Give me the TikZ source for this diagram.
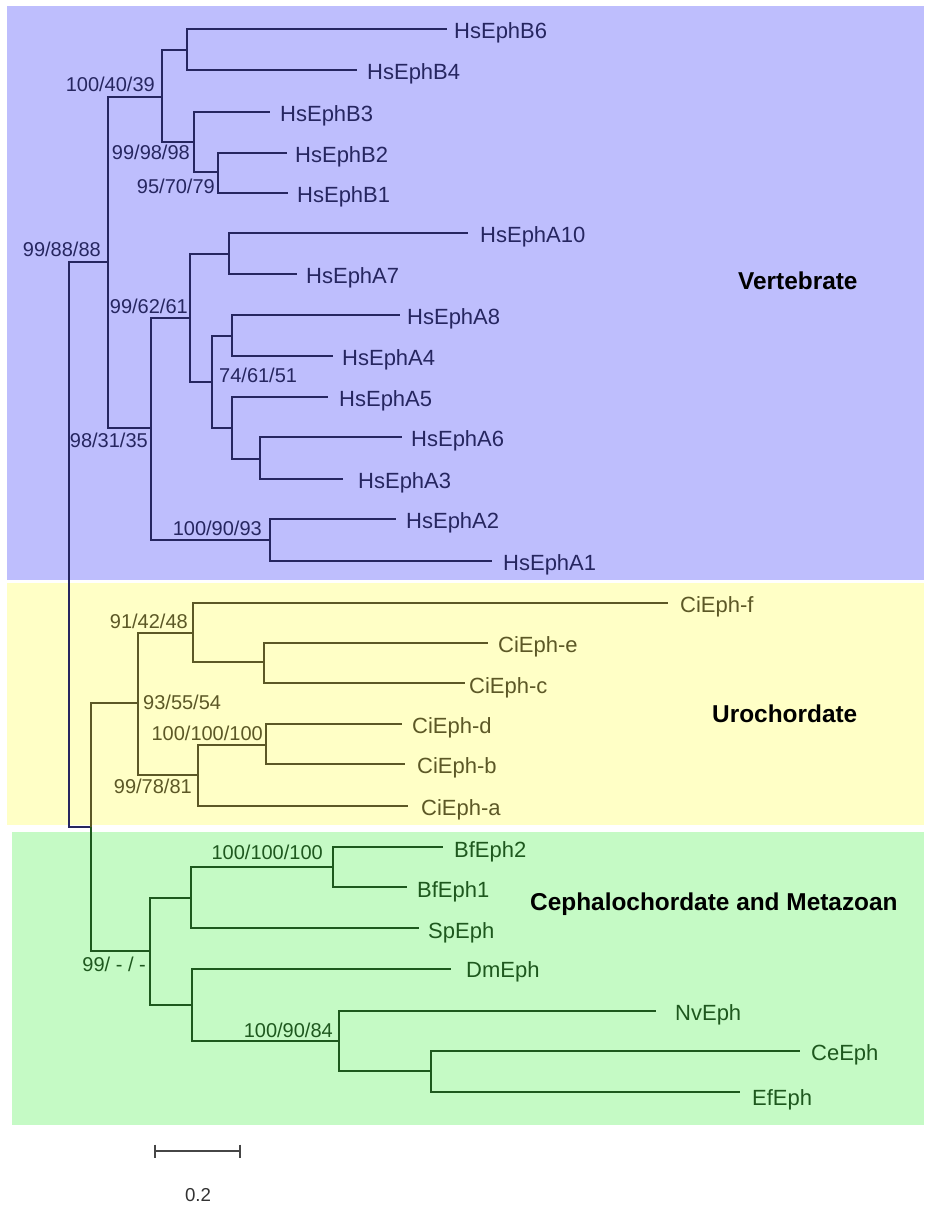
\documentclass[tikz,border=0pt]{standalone}
\usepackage{fontspec}
\setmainfont{Liberation Sans}
\definecolor{bandblue}{RGB}{190,190,253}
\definecolor{inkblue}{RGB}{38,38,96}
\definecolor{bandyellow}{RGB}{255,255,198}
\definecolor{inkyellow}{RGB}{92,88,38}
\definecolor{bandgreen}{RGB}{197,250,197}
\definecolor{inkgreen}{RGB}{30,88,30}
\definecolor{scalegray}{RGB}{70,70,70}
\begin{document}
\begin{tikzpicture}[x=1pt,y=-1pt,
  branch/.style={line width=1.8pt, line join=miter},
  leaf/.style={anchor=base west, inner sep=0pt, font=\fontsize{22}{26}\selectfont},
  suppr/.style={anchor=base east, inner sep=0pt, font=\fontsize{20}{24}\selectfont},
  suppl/.style={anchor=base west, inner sep=0pt, font=\fontsize{20}{24}\selectfont},
  clade/.style={anchor=base west, inner sep=0pt, text=black, font=\fontsize{24.4}{28}\selectfont\bfseries}]
\useasboundingbox (0,0) rectangle (924,1205);
\fill[white] (0,0) rectangle (924,1205);
% bands
\fill[bandblue] (7,6) rectangle (924,580);
\fill[bandyellow] (7,583) rectangle (924,825);
\fill[bandgreen] (12,832) rectangle (924,1125);

% ---------- coordinates ----------
\coordinate (nR) at (69,544);
\coordinate (nV) at (108,262);
\coordinate (nB) at (162,97);
\coordinate (nB64) at (187,50);
\coordinate (nB321) at (194,142);
\coordinate (nB21) at (218,172);
\coordinate (nA) at (151,428);
\coordinate (nA1074) at (190,318);
\coordinate (nA107) at (229,254);
\coordinate (nA8463) at (212,382);
\coordinate (nA84) at (232,336);
\coordinate (nA563) at (232,428);
\coordinate (nA63) at (260,459);
\coordinate (nA21) at (270,540);
\coordinate (tB6) at (447,29);
\coordinate (tB4) at (357,70);
\coordinate (tB3) at (270,112);
\coordinate (tB2) at (287,153);
\coordinate (tB1) at (288,193);
\coordinate (tA10) at (468,233);
\coordinate (tA7) at (297,274);
\coordinate (tA8) at (400,315);
\coordinate (tA4) at (333,356);
\coordinate (tA5) at (328,397);
\coordinate (tA6) at (402,437);
\coordinate (tA3) at (343,479);
\coordinate (tA2) at (396,519);
\coordinate (tA1) at (492,561);

\coordinate (nUC) at (91,827);
\coordinate (nU) at (138,703);
\coordinate (nU1) at (193,633);
\coordinate (nEC) at (264,662);
\coordinate (nU2) at (198,775);
\coordinate (nDB) at (266,745);
\coordinate (tUf) at (668,603);
\coordinate (tUe) at (488,643);
\coordinate (tUc) at (465,683);
\coordinate (tUd) at (402,724);
\coordinate (tUb) at (405,764);
\coordinate (tUa) at (408,806);

\coordinate (nC) at (150,951);
\coordinate (nC1) at (191,898);
\coordinate (nBf) at (333,867);
\coordinate (nC2) at (192,1005);
\coordinate (nNCE) at (339,1041);
\coordinate (nCE) at (431,1071);
\coordinate (tBf2) at (443,847);
\coordinate (tBf1) at (407,887);
\coordinate (tSp) at (419,928);
\coordinate (tDm) at (451,969);
\coordinate (tNv) at (656,1011);
\coordinate (tCe) at (800,1051);
\coordinate (tEf) at (740,1092);

% ---------- vertebrate ----------
\begin{scope}[color=inkblue]
\draw[branch] (nR) |- (nV);
\draw[branch] (nR) |- (nUC);
\draw[branch] (nV) |- (nB);
\draw[branch] (nV) |- (nA);
\draw[branch] (nB) |- (nB64);
\draw[branch] (nB) |- (nB321);
\draw[branch] (nB64) |- (tB6);
\draw[branch] (nB64) |- (tB4);
\draw[branch] (nB321) |- (tB3);
\draw[branch] (nB321) |- (nB21);
\draw[branch] (nB21) |- (tB2);
\draw[branch] (nB21) |- (tB1);
\draw[branch] (nA) |- (nA1074);
\draw[branch] (nA) |- (nA21);
\draw[branch] (nA1074) |- (nA107);
\draw[branch] (nA1074) |- (nA8463);
\draw[branch] (nA107) |- (tA10);
\draw[branch] (nA107) |- (tA7);
\draw[branch] (nA8463) |- (nA84);
\draw[branch] (nA8463) |- (nA563);
\draw[branch] (nA84) |- (tA8);
\draw[branch] (nA84) |- (tA4);
\draw[branch] (nA563) |- (tA5);
\draw[branch] (nA563) |- (nA63);
\draw[branch] (nA63) |- (tA6);
\draw[branch] (nA63) |- (tA3);
\draw[branch] (nA21) |- (tA2);
\draw[branch] (nA21) |- (tA1);

\node[leaf] (lB6) at (454,38) {HsEphB6};
\node[leaf] (lB4) at (367,79) {HsEphB4};
\node[leaf] (lB3) at (280,121) {HsEphB3};
\node[leaf] (lB2) at (295,162) {HsEphB2};
\node[leaf] (lB1) at (297,202) {HsEphB1};
\node[leaf] (lA10) at (480,242) {HsEphA10};
\node[leaf] (lA7) at (306,283) {HsEphA7};
\node[leaf] (lA8) at (407,324) {HsEphA8};
\node[leaf] (lA4) at (342,365) {HsEphA4};
\node[leaf] (lA5) at (339,406) {HsEphA5};
\node[leaf] (lA6) at (411,446) {HsEphA6};
\node[leaf] (lA3) at (358,488) {HsEphA3};
\node[leaf] (lA2) at (406,528) {HsEphA2};
\node[leaf] (lA1) at (503,570) {HsEphA1};

\node[suppr] (s1) at (155,91) {100/40/39};
\node[suppr] (s2) at (190,159) {99/98/98};
\node[suppr] (s3) at (215,193) {95/70/79};
\node[suppr] (s4) at (101,256) {99/88/88};
\node[suppr] (s5) at (188,313) {99/62/61};
\node[suppl] (s6) at (219,382) {74/61/51};
\node[suppr] (s7) at (148,447) {98/31/35};
\node[suppr] (s8) at (262,535) {100/90/93};
\end{scope}
\node[clade] (cV) at (738,289) {Vertebrate};

% ---------- urochordate ----------
\begin{scope}[color=inkyellow]
\draw[branch] (nUC) |- (nU);
\draw[branch] (nU) |- (nU1);
\draw[branch] (nU) |- (nU2);
\draw[branch] (nU1) |- (tUf);
\draw[branch] (nU1) |- (nEC);
\draw[branch] (nEC) |- (tUe);
\draw[branch] (nEC) |- (tUc);
\draw[branch] (nU2) |- (nDB);
\draw[branch] (nU2) |- (tUa);
\draw[branch] (nDB) |- (tUd);
\draw[branch] (nDB) |- (tUb);

\node[leaf] (lUf) at (680,612) {CiEph-f};
\node[leaf] (lUe) at (498,652) {CiEph-e};
\node[leaf] (lUc) at (469,693) {CiEph-c};
\node[leaf] (lUd) at (412,733) {CiEph-d};
\node[leaf] (lUb) at (417,773) {CiEph-b};
\node[leaf] (lUa) at (421,815) {CiEph-a};

\node[suppr] (s9) at (188,628) {91/42/48};
\node[suppl] (s10) at (143,709) {93/55/54};
\node[suppr] (s11) at (263,740) {100/100/100};
\node[suppr] (s12) at (192,793) {99/78/81};
\end{scope}
\node[clade] (cU) at (712,722) {Urochordate};

% ---------- cephalochordate & metazoan ----------
\begin{scope}[color=inkgreen]
\draw[branch] (nUC) |- (nC);
\draw[branch] (nC) |- (nC1);
\draw[branch] (nC) |- (nC2);
\draw[branch] (nC1) |- (nBf);
\draw[branch] (nC1) |- (tSp);
\draw[branch] (nBf) |- (tBf2);
\draw[branch] (nBf) |- (tBf1);
\draw[branch] (nC2) |- (tDm);
\draw[branch] (nC2) |- (nNCE);
\draw[branch] (nNCE) |- (tNv);
\draw[branch] (nNCE) |- (nCE);
\draw[branch] (nCE) |- (tCe);
\draw[branch] (nCE) |- (tEf);

\node[leaf] (lBf2) at (454,857) {BfEph2};
\node[leaf] (lBf1) at (417,897) {BfEph1};
\node[leaf] (lSp) at (428,938) {SpEph};
\node[leaf] (lDm) at (466,977) {DmEph};
\node[leaf] (lNv) at (675,1020) {NvEph};
\node[leaf] (lCe) at (811,1060) {CeEph};
\node[leaf] (lEf) at (752,1105) {EfEph};

\node[suppr] (s13) at (323,859) {100/100/100};
\node[suppr] (s14) at (146,971) {99/ - / -};
\node[suppr] (s15) at (333,1037) {100/90/84};
\end{scope}
\node[clade] (cC) at (530,910) {Cephalochordate and Metazoan};

% ---------- scale bar ----------
\coordinate (sL) at (155,1151);
\coordinate (sR) at (240,1151);
\draw[scalegray, line width=1.8pt] (sL) -- (sR);
\draw[scalegray, line width=1.8pt] ([yshift=6.5pt]sL) -- ([yshift=-6.5pt]sL);
\draw[scalegray, line width=1.8pt] ([yshift=6.5pt]sR) -- ([yshift=-6.5pt]sR);
\node[inner sep=0pt, text=black!80, font=\fontsize{18.7}{22}\selectfont] (sLab) at (198,1195) {0.2};
\end{tikzpicture}
\end{document}
